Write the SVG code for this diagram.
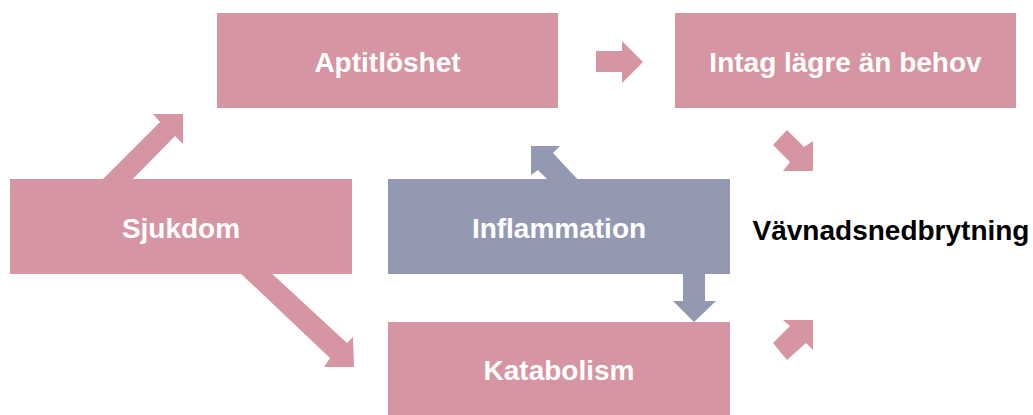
<svg xmlns="http://www.w3.org/2000/svg" width="1033" height="415" viewBox="0 0 1033 415">
<style>
.pink{fill:#D595A2}
.blue{fill:#9499B2}
.lbl{font-family:"Liberation Sans",Arial,sans-serif;font-weight:bold;font-size:28px;fill:#FFFFFF;text-anchor:middle}
.dark{fill:#000000}
</style>
<rect width="1033" height="415" fill="#FFFFFF"/>
<g id="connectors">
<polygon class="pink" points="97,185 160,122 153,114 183,114 183,144 175,136 127,185"/>
<polygon class="pink" points="237,270 330,358 324,367 354,367 353,337 347,343 268,270"/>
<polygon class="blue" points="551,183 538,170 531,175 531,146 560,146 553,153 581,183"/>
<polygon class="blue" points="683,270 683,301 673,301 694,322 716,301 705,301 705,270"/>
<polygon class="pink" points="596,51 622,51 622,41 643,62 622,83 622,72 596,72"/>
<polygon class="pink" points="773,145 787,130 804,147 813,141 813,171 783,171 790,162"/>
<polygon class="pink" points="773,343 790,326 783,320 813,320 813,350 806,343 787,360"/>
</g>
<g id="aptitloshet">
<rect class="pink" x="217" y="13" width="341" height="95"/>
<text class="lbl" x="387.5" y="72">Aptitlöshet</text>
</g>
<g id="intag">
<rect class="pink" x="675" y="13" width="341" height="95"/>
<text class="lbl" x="845.5" y="72">Intag lägre än behov</text>
</g>
<g id="sjukdom">
<rect class="pink" x="10" y="179" width="342" height="95"/>
<text class="lbl" x="181" y="238">Sjukdom</text>
</g>
<g id="inflammation">
<rect class="blue" x="388" y="179" width="342" height="95"/>
<text class="lbl" x="559" y="238">Inflammation</text>
</g>
<g id="katabolism">
<rect class="pink" x="388" y="322" width="342" height="93"/>
<text class="lbl" x="559" y="380">Katabolism</text>
</g>
<g id="vavnadsnedbrytning">
<text class="lbl dark" x="891" y="240">Vävnadsnedbrytning</text>
</g>
</svg>
